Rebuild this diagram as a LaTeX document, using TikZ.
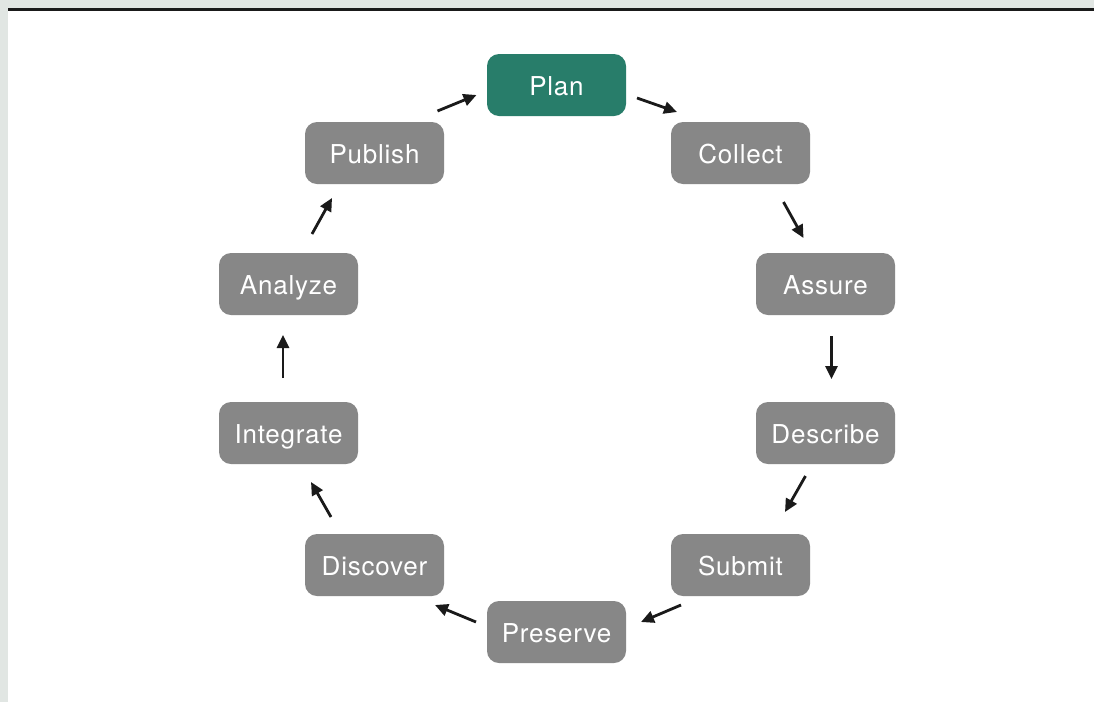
\documentclass[tikz,border=0pt]{standalone}
\usepackage{fontspec}
\setmainfont{TeX Gyre Heros}[LetterSpace=3]
\usetikzlibrary{arrows.meta}
\definecolor{boxgray}{HTML}{878787}
\definecolor{plangreen}{HTML}{287D6A}
\definecolor{stripgray}{HTML}{E1E6E3}
\definecolor{arrowblack}{HTML}{1A1A1A}
\tikzset{
  stage/.style={rectangle, rounded corners=12pt, fill=boxgray, text=white,
    minimum width=139pt, minimum height=62pt, inner sep=0pt,
    text height=20pt, text depth=0pt,
    font=\fontsize{26}{26}\selectfont},
  flow/.style={draw=arrowblack, line width=2.8pt,
    -{Triangle[length=13pt,width=12pt]}},
}
\begin{document}
\begin{tikzpicture}[x=1pt,y=-1pt]
  \useasboundingbox (0,0) rectangle (1094,702);
  \fill[white] (0,0) rectangle (1094,702);
  \fill[stripgray] (0,0) rectangle (1094,8);
  \fill[stripgray] (0,0) rectangle (8,702);
  \fill[arrowblack] (8,8) rectangle (1094,11);

  \node[stage, fill=plangreen] (plan) at (556.5,85) {Plan};
  \node[stage] (collect) at (740.5,153) {Collect};
  \node[stage] (assure) at (825.5,284) {Assure};
  \node[stage] (describe) at (825.5,433) {Describe};
  \node[stage] (submit) at (740.5,565) {Submit};
  \node[stage] (preserve) at (556.5,632) {Preserve};
  \node[stage] (discover) at (374.5,565) {Discover};
  \node[stage] (integrate) at (288.5,433) {Integrate};
  \node[stage] (analyze) at (288.5,284) {Analyze};
  \node[stage] (publish) at (374.5,153) {Publish};

  \draw[flow] ([shift={(63,-42)}]publish.center) -- ([shift={(-80,10)}]plan.center);
  \draw[flow] ([shift={(80.5,13)}]plan.center) -- ([shift={(-63.5,-41)}]collect.center);
  \draw[flow] ([shift={(43,49)}]collect.center) -- ([shift={(-22,-46)}]assure.center);
  \draw[flow] ([shift={(6,52)}]assure.center) -- ([shift={(6,-54)}]describe.center);
  \draw[flow] ([shift={(-20,43)}]describe.center) -- ([shift={(44.5,-53)}]submit.center);
  \draw[flow] ([shift={(-59.5,40)}]submit.center) -- ([shift={(84.5,-10)}]preserve.center);
  \draw[flow] ([shift={(-80.5,-10)}]preserve.center) -- ([shift={(60.5,40)}]discover.center);
  \draw[flow] ([shift={(-43.5,-48)}]discover.center) -- ([shift={(22.5,49)}]integrate.center);
  \draw[flow] ([shift={(-5.5,-55)}]integrate.center) -- ([shift={(-5.5,51)}]analyze.center);
  \draw[flow] ([shift={(23.5,-50)}]analyze.center) -- ([shift={(-42.5,45)}]publish.center);
\end{tikzpicture}
\end{document}
